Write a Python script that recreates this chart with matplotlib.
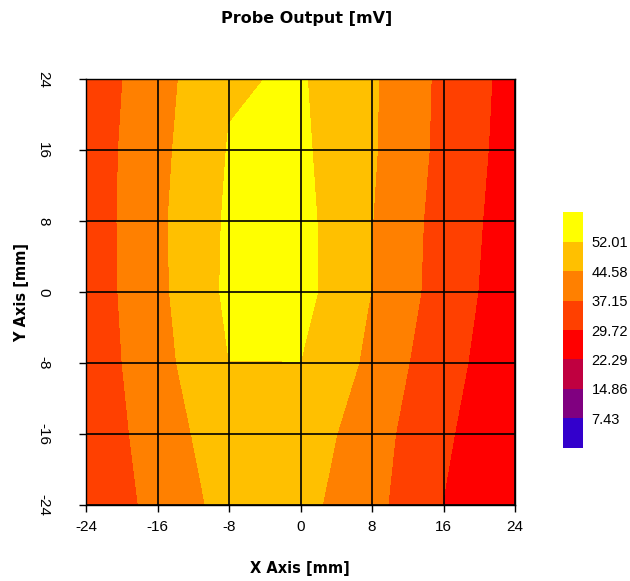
import matplotlib
matplotlib.use("Agg")
from matplotlib import pyplot as plt
from matplotlib.colors import ListedColormap, BoundaryNorm
import numpy as np

plt.rcParams["axes.unicode_minus"] = False

# measurement grid (mm)
x_pos = [-24, -16, -8, 0, 8, 16, 24]
y_pos = [-24, -16, -8, 0, 8, 16, 24]

# probe output [mV], one row per y position (bottom to top)
row_m24 = [30.2, 39.7, 47.0, 46.9, 39.3, 29.6, 24.0]
row_m16 = [31.8, 40.6, 49.0, 49.0, 40.3, 30.7, 24.3]
row_m8 = [32.3, 41.9, 51.95, 51.95, 42.9, 31.8, 25.7]
row_0 = [32.6, 42.8, 53.4, 54.4, 44.4, 33.8, 25.3]
row_p8 = [32.6, 43.1, 53.1, 54.2, 44.7, 34.2, 26.0]
row_p16 = [32.7, 42.5, 52.4, 53.3, 45.35, 35.1, 26.5]
row_p24 = [32.2, 41.8, 51.35, 52.7, 45.5, 35.4, 27.0]

# colour bands
levels = [0, 7.43, 14.86, 22.29, 29.72, 37.15, 44.58, 52.01, 59.44]
band_colors = ["#3300cc", "#800080", "#c00040", "#ff0000",
               "#ff4000", "#ff8000", "#ffc000", "#ffff00"]

z = np.array([row_m24, row_m16, row_m8, row_0, row_p8, row_p16, row_p24])
X, Y = np.meshgrid(x_pos, y_pos)

cmap = ListedColormap(band_colors)
norm = BoundaryNorm(levels, cmap.N)

fig = plt.figure(figsize=(6.3, 5.81), dpi=100)
ax = fig.add_axes([0.1365, 0.1308, 0.681, 0.733])

cs = ax.contourf(X, Y, z, levels=levels, cmap=cmap, norm=norm, antialiased=False)

ax.set_xlim(-24, 24)
ax.set_ylim(-24, 24)
ax.set_xticks(x_pos)
ax.set_yticks(y_pos)
ax.set_xticklabels([str(v) for v in x_pos], family="Liberation Sans", fontsize=11)
ax.set_yticklabels([str(v) for v in y_pos], family="Liberation Sans", fontsize=11,
                   rotation=-90, va="center")
ax.grid(True, color="black", linewidth=1.2)
ax.tick_params(direction="out", length=5, width=1, colors="black")
ax.tick_params(axis="x", pad=6)
ax.tick_params(axis="y", pad=21)
for sp in ax.spines.values():
    sp.set_color("black")
    sp.set_linewidth(1)

fig.text(307 / 630, 1 - 18 / 581, "Probe Output [mV]", ha="center", va="center",
         fontsize=11.5, fontweight="bold")
fig.text(300 / 630, 1 - 569 / 581, "X Axis [mm]", ha="center", va="center",
         fontsize=10.5, fontweight="bold")
fig.text(22 / 630, 1 - 292 / 581, "Y Axis [mm]", ha="center", va="center",
         fontsize=10.5, fontweight="bold", rotation=90)

# legend bar
cax = fig.add_axes([0.894, 0.229, 0.032, 0.406])
cb = fig.colorbar(cs, cax=cax, ticks=levels[1:-1])
cb.ax.set_yticklabels([f"{v:.2f}" for v in levels[1:-1]], family="Liberation Sans",
                      fontsize=10.5)
cb.ax.tick_params(length=0, pad=6)
cb.ax.minorticks_off()
cb.outline.set_visible(False)

plt.savefig("out.png", dpi=100)
